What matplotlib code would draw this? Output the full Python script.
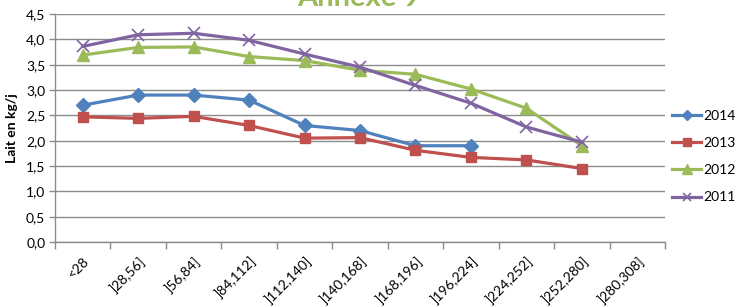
import matplotlib
matplotlib.use("Agg")
import matplotlib.pyplot as plt
import numpy as np

plt.rcParams['font.family'] = ['Lato', 'DejaVu Sans']

categories = ["<28", "]28,56]", "]56,84]", "]84,112]", "]112,140]", "]140,168]",
              "]168,196]", "]196,224]", "]224,252]", "]252,280]", "]280,308]"]
v2014 = [2.70, 2.90, 2.90, 2.80, 2.30, 2.20, 1.90, 1.90]
v2013 = [2.47, 2.44, 2.48, 2.30, 2.05, 2.06, 1.81, 1.67, 1.62, 1.45]
v2012 = [3.69, 3.84, 3.85, 3.66, 3.58, 3.39, 3.31, 3.02, 2.64, 1.90]
v2011 = [3.86, 4.09, 4.12, 3.98, 3.71, 3.45, 3.09, 2.74, 2.27, 1.97]
yticks = [0.0, 0.5, 1.0, 1.5, 2.0, 2.5, 3.0, 3.5, 4.0, 4.5]
ytick_labels = ["0,0", "0,5", "1,0", "1,5", "2,0", "2,5", "3,0", "3,5", "4,0", "4,5"]

W, H = 751, 307
fig = plt.figure(figsize=(W/100, H/100), dpi=100)
ax = fig.add_axes([55/W, 1-242/H, 610/W, 228/H])

series = [
    ("2014", v2014, "#4F81BD", "D", 7),
    ("2013", v2013, "#C0504D", "s", 7.5),
    ("2012", v2012, "#9BBB59", "^", 8.5),
    ("2011", v2011, "#8064A2", "x", 8),
]
for name, vals, col, mk, ms in series:
    x = np.arange(len(vals))
    kw = dict(markeredgewidth=1.2) if mk == "x" else dict(markeredgecolor=col)
    ax.plot(x, vals, color=col, lw=2.3, marker=mk, markersize=ms,
            markerfacecolor=col, label=name, **kw)

ax.set_xlim(-0.5, len(categories)-0.5)
ax.set_ylim(0, 4.5)
ax.set_yticks(yticks)
ax.set_yticklabels(ytick_labels, fontsize=10)
ax.yaxis.grid(True, color="#8C8C8C", lw=1.0)
ax.set_axisbelow(True)

ax.set_xticks(np.arange(len(categories)))
ax.set_xticklabels(categories, rotation=45, ha="right", rotation_mode="anchor", fontsize=10)
ax.tick_params(axis="x", length=0, pad=9)
ax.set_xticks(np.arange(len(categories)+1)-0.5, minor=True)
ax.tick_params(axis="x", which="minor", length=5, color="#8C8C8C", width=1)
ax.tick_params(axis="y", length=4, color="#8C8C8C", width=1, pad=3)

for s in ["top", "right"]:
    ax.spines[s].set_visible(False)
for s in ["left", "bottom"]:
    ax.spines[s].set_color("#8C8C8C")
    ax.spines[s].set_linewidth(1)

ax.set_ylabel("Lait en kg/j", fontsize=10, fontweight="bold", labelpad=6)

leg = ax.legend(loc="center left", bbox_to_anchor=(1.0, 0.375), frameon=False,
                fontsize=10, handlelength=2.1, labelspacing=1.1, handletextpad=0.15,
                borderaxespad=0.5, borderpad=0, markerscale=0.8)

fig.text(359/W, 1-6/H, "Annexe 9", color="#9BBB59", fontsize=21, fontweight="bold",
         ha="center", va="baseline")

fig.savefig("out.png", dpi=100)
